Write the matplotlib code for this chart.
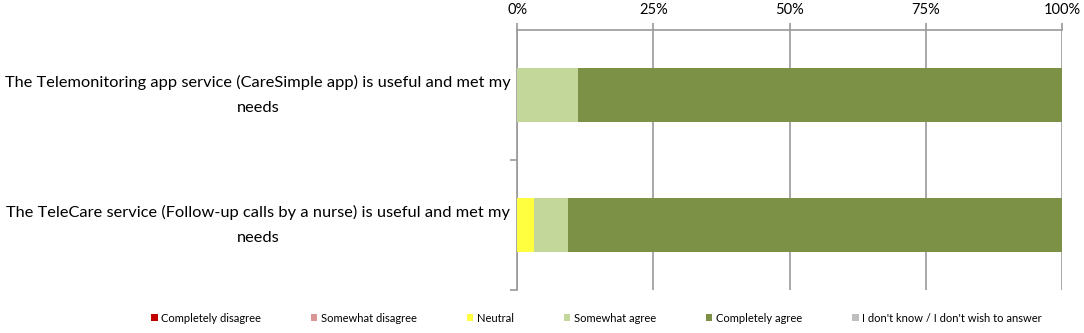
import numpy as np
import matplotlib.pyplot as plt
from matplotlib.patches import Patch

plt.rcParams['font.family'] = ['Lato', 'DejaVu Sans']

statements = [
    "The Telemonitoring app service (CareSimple app) is useful and met my\nneeds",
    "The TeleCare service (Follow-up calls by a nurse) is useful and met my\nneeds",
]
responses = ["Completely disagree", "Somewhat disagree", "Neutral",
             "Somewhat agree", "Completely agree",
             "I don't know / I don't wish to answer"]
colors = ["#C00000", "#D99694", "#FFFF3F", "#C4D79B", "#7D9146", "#BFBFBF"]

# percent of respondents per answer, one list per answer category
completely_disagree = [0.0, 0.0]
somewhat_disagree = [0.0, 0.0]
neutral = [0.0, 3.1]
somewhat_agree = [11.1, 6.2]
completely_agree = [88.9, 90.7]
dont_know = [0.0, 0.0]

series = [completely_disagree, somewhat_disagree, neutral,
          somewhat_agree, completely_agree, dont_know]

fig = plt.figure(figsize=(10.84, 3.33), dpi=100)
ax = fig.add_axes([0.477, 0.129, 0.503, 0.781])

y = np.arange(len(statements))
left = np.zeros(len(statements))
for vals, col in zip(series, colors):
    vals = np.array(vals)
    ax.barh(y, vals, left=left, height=0.41, color=col, edgecolor='none', zorder=3)
    left += vals

ax.set_xlim(0, 100)
ax.set_ylim(1.5, -0.5)
ax.xaxis.tick_top()
ax.set_xticks([0, 25, 50, 75, 100])
ax.set_xticklabels(["0%", "25%", "50%", "75%", "100%"], fontsize=10.5)
ax.tick_params(axis='x', colors='#999999', labelcolor='black', length=5, width=1.2, pad=4)
ax.grid(axis='x', color='#999999', linewidth=1.2, zorder=0)

ax.set_yticks([0.5, 1.5])
ax.set_yticklabels([])
ax.tick_params(axis='y', colors='#999999', length=5, width=1.2)

# statement labels centred in the space left of the axes
trans = ax.get_yaxis_transform()
for i, s in enumerate(statements):
    ax.text(-0.475, i, s, ha='center', va='center', multialignment='center',
            fontsize=11.8, linespacing=2.0, transform=trans)

for side in ['right', 'bottom']:
    ax.spines[side].set_visible(False)
for side in ['left', 'top']:
    ax.spines[side].set_color('#999999')
    ax.spines[side].set_linewidth(1.2)

handles = [Patch(facecolor=c, edgecolor='none') for c in colors]
fig.legend(handles, responses, loc='center', bbox_to_anchor=(0.55, 0.045), ncol=6,
           frameon=False, fontsize=8, handlelength=0.6, handleheight=0.6,
           handletextpad=0.3, columnspacing=4.5)

plt.savefig("out.png", dpi=100)
